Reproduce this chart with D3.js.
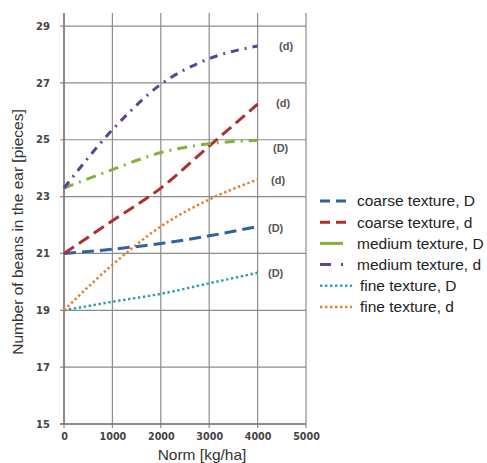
<!DOCTYPE html>
<html><head><meta charset="utf-8">
<script src="https://cdnjs.cloudflare.com/ajax/libs/d3/7.8.5/d3.min.js"></script>
<style>html,body{margin:0;padding:0;background:#fff;}svg{display:block;}</style>
</head><body>
<svg id="chart" width="487" height="463"></svg>
<script>
const xValues = [0, 1000, 2000, 3000, 4000];
const xTicks = [0, 1000, 2000, 3000, 4000, 5000];
const yTicks = [15, 17, 19, 21, 23, 25, 27, 29];
const seriesNames = ["coarse texture, D", "coarse texture, d", "medium texture, D", "medium texture, d", "fine texture, D", "fine texture, d"];
const coarseD = [21.0, 21.15, 21.35, 21.62, 21.95];
const coarseSmallD = [21.0, 22.15, 23.3, 24.78, 26.25];
const mediumD = [23.3, 23.95, 24.55, 24.86, 24.98];
const mediumSmallD = [23.3, 25.35, 26.95, 27.85, 28.3];
const fineD = [19.0, 19.3, 19.58, 19.95, 20.32];
const fineSmallD = [19.0, 20.6, 21.95, 22.9, 23.6];
const endLabels = ["(D)", "(d)", "(D)", "(d)", "(D)", "(d)"];

const seriesValues = [coarseD, coarseSmallD, mediumD, mediumSmallD, fineD, fineSmallD];
const styles = [
  {color: "#2f62a0", dash: "12,6", width: 3, legendDash: "10,6"},
  {color: "#ad3030", dash: "12,6", width: 3, legendDash: "10,6"},
  {color: "#86b03c", dash: "10,6,2,6", width: 3, legendDash: null},
  {color: "#60419a", dash: "8,6,2,6", width: 3, legendDash: "11,10,2,20"},
  {color: "#2a9fb8", dash: "2.4,2.6", width: 2.5, legendDash: "2.4,2.6"},
  {color: "#e57d2e", dash: "2.4,2.6", width: 2.5, legendDash: "2.4,2.6"}
];
// label placement near line ends
const labelPos = [[268, 228], [276, 103], [273, 148], [279, 46], [268, 273], [271, 180]];

const svg = d3.select("#chart");
const x = d3.scaleLinear().domain([0, 5000]).range([64, 306]);
const y = d3.scaleLinear().domain([15, 29.46]).range([424, 13]);

const gridColor = "#8c8c8c";
svg.append("g").selectAll("line").data(yTicks).join("line")
  .attr("x1", x(0) - 4).attr("x2", x(5000))
  .attr("y1", d => y(d)).attr("y2", d => y(d))
  .attr("stroke", gridColor).attr("stroke-width", 1.2);
svg.append("g").selectAll("line").data(xTicks).join("line")
  .attr("x1", d => x(d)).attr("x2", d => x(d))
  .attr("y1", y.range()[1]).attr("y2", y(15) + 4)
  .attr("stroke", gridColor).attr("stroke-width", 1.2);

const yAxis = d3.axisLeft(y).tickValues(yTicks).tickSize(0).tickPadding(14);
const gy = svg.append("g").attr("transform", `translate(${x(0)},0)`).call(yAxis);
gy.select(".domain").remove();
gy.selectAll("text").attr("font-family", "DejaVu Sans").attr("font-weight", "bold")
  .attr("font-size", 10).attr("fill", "#444");
const xAxis = d3.axisBottom(x).tickValues(xTicks).tickFormat(d3.format("d")).tickSize(0).tickPadding(9);
const gx = svg.append("g").attr("transform", `translate(0,${y(15)})`).call(xAxis);
gx.select(".domain").remove();
gx.selectAll("text").attr("font-family", "DejaVu Sans").attr("font-weight", "bold")
  .attr("font-size", 9.6).attr("fill", "#444");
svg.append("line").attr("x1", x(0)).attr("x2", x(0)).attr("y1", y.range()[1]).attr("y2", y(15))
  .attr("stroke", "#777").attr("stroke-width", 1.4);
svg.append("line").attr("x1", x(0) - 4).attr("x2", x(5000)).attr("y1", y(15)).attr("y2", y(15))
  .attr("stroke", "#777").attr("stroke-width", 1.4);

const line = d3.line().x((d, i) => x(xValues[i])).y(d => y(d)).curve(d3.curveMonotoneX);
seriesValues.forEach((vals, i) => {
  svg.append("path").datum(vals).attr("d", line)
    .attr("fill", "none").attr("stroke", styles[i].color)
    .attr("stroke-width", styles[i].width).attr("stroke-dasharray", styles[i].dash);
});

svg.append("g").selectAll("text").data(endLabels).join("text")
  .attr("x", (d, i) => labelPos[i][0]).attr("y", (d, i) => labelPos[i][1])
  .attr("dy", "0.35em").attr("font-family", "Liberation Sans, Arial, sans-serif").attr("font-weight", "bold")
  .attr("font-size", 11).attr("fill", "#555").text(d => d);

svg.append("text").attr("transform", "translate(23,232) rotate(-90)")
  .attr("text-anchor", "middle").attr("font-family", "Liberation Sans, Arial, sans-serif")
  .attr("font-size", 15.5).attr("fill", "#333").text("Number of beans in the ear [pieces]");
svg.append("text").attr("x", 202).attr("y", 460).attr("text-anchor", "middle")
  .attr("font-family", "Liberation Sans, Arial, sans-serif")
  .attr("font-size", 15.5).attr("fill", "#333").text("Norm [kg/ha]");

const lg = svg.append("g");
seriesNames.forEach((name, i) => {
  const yy = 201 + i * 21.2;
  const s = styles[i];
  lg.append("line").attr("x1", 320).attr("x2", i >= 4 ? 352 : (i === 2 ? 343 : 347))
    .attr("y1", yy).attr("y2", yy).attr("stroke", s.color).attr("stroke-width", s.width)
    .attr("stroke-dasharray", s.legendDash);
  lg.append("text").attr("x", i >= 4 ? 360 : 357).attr("y", yy).attr("dy", "0.35em")
    .attr("font-family", "Liberation Sans, Arial, sans-serif").attr("font-size", 15.5)
    .attr("fill", "#222").text(name);
});
</script>
</body></html>
